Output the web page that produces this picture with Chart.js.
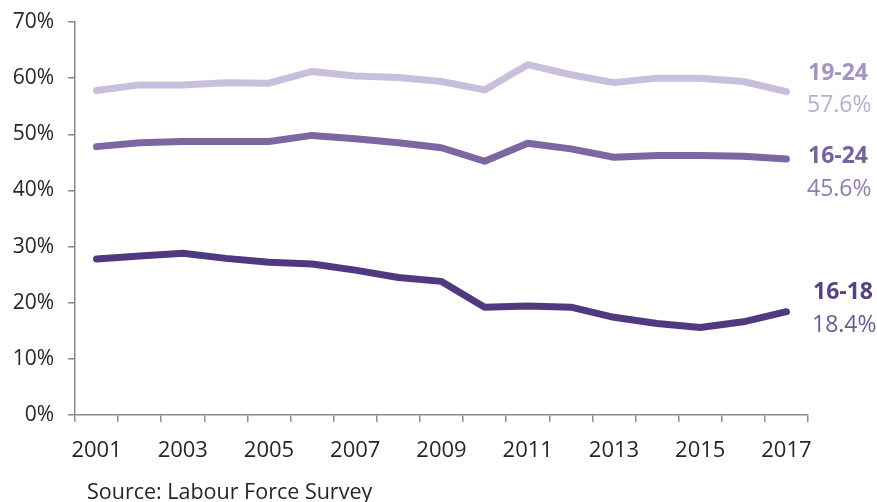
<!DOCTYPE html>
<html>
<head>
<meta charset="utf-8">
<script src="https://cdn.jsdelivr.net/npm/chart.js@4/dist/chart.umd.min.js"></script>
<style>
  html, body { margin: 0; padding: 0; background: #fff; }
  #wrap { position: relative; width: 877px; height: 502px; }
  #source {
    position: absolute; left: 87px; top: 476px;
    font-family: "Open Sans", sans-serif; font-size: 21.5px; line-height: 30px; color: #262626;
  }
</style>
</head>
<body>
<div id="wrap">
  <canvas id="myChart" width="877" height="502"></canvas>
  <div id="source">Source: Labour Force Survey</div>
</div>
<script>
const annees = ["2001", "2002", "2003", "2004", "2005", "2006", "2007", "2008", "2009",
  "2010", "2011", "2012", "2013", "2014", "2015", "2016", "2017"];

const groupes = ["19-24", "16-24", "16-18"];

const taux1924 = [57.8, 58.8, 58.8, 59.2, 59.1, 61.2, 60.4, 60.1, 59.4,
  57.9, 62.4, 60.6, 59.2, 60.0, 60.0, 59.4, 57.6];
const taux1624 = [47.8, 48.5, 48.7, 48.7, 48.7, 49.8, 49.2, 48.5, 47.6,
  45.2, 48.4, 47.4, 45.9, 46.2, 46.2, 46.1, 45.6];
const taux1618 = [27.8, 28.3, 28.8, 27.9, 27.2, 26.9, 25.8, 24.5, 23.8,
  19.2, 19.4, 19.2, 17.4, 16.3, 15.6, 16.6, 18.4];

const graduationsY = [0, 10, 20, 30, 40, 50, 60, 70];

const couleursLigne = ["#c9bfdc", "#7c67a3", "#4f3a80"];
const couleursNom = ["#a395c2", "#76629e", "#56437f"];
const couleursValeur = ["#b8aed0", "#8e7db2", "#6b5a98"];

// decalages des etiquettes de fin de ligne (nom, valeur), en pixels
const decalages = [
  { dx: 0, nomDy: -18, valDy: 14 },
  { dx: 0, nomDy: -3, valDy: 30 },
  { dx: 5, nomDy: -19, valDy: 14 },
];

const police = "'Open Sans', sans-serif";

const etiquettesFin = {
  id: "etiquettesFin",
  afterDatasetsDraw(chart) {
    const ctx = chart.ctx;
    const droite = chart.chartArea.right;
    ctx.save();
    ctx.textAlign = "left";
    ctx.textBaseline = "middle";
    chart.data.datasets.forEach((ds, i) => {
      const meta = chart.getDatasetMeta(i);
      const pt = meta.data[meta.data.length - 1];
      const d = decalages[i];
      ctx.font = "bold 23px " + police;
      ctx.fillStyle = couleursNom[i];
      ctx.fillText(ds.label, droite + d.dx, pt.y + d.nomDy);
      ctx.font = "23px " + police;
      ctx.fillStyle = couleursValeur[i];
      ctx.fillText(ds.data[ds.data.length - 1].toFixed(1) + "%", droite + d.dx - 1, pt.y + d.valDy);
    });
    ctx.restore();
  },
};

const series = [taux1924, taux1624, taux1618];

const data = {
  labels: annees,
  datasets: series.map((valeurs, i) => ({
    label: groupes[i],
    data: valeurs,
    borderColor: couleursLigne[i],
    backgroundColor: couleursLigne[i],
    borderWidth: 7,
    borderCapStyle: "round",
    borderJoinStyle: "round",
    pointRadius: 0,
    tension: 0,
  })),
};

const config = {
  type: "line",
  data: data,
  options: {
    responsive: false,
    animation: false,
    layout: { padding: { top: 22, right: 69, left: 0, bottom: 0 } },
    plugins: {
      legend: { display: false },
      tooltip: { enabled: false },
    },
    scales: {
      x: {
        offset: true,
        grid: { offset: true, drawOnChartArea: false, tickLength: 7, color: "#8a8a8a", lineWidth: 1.5 },
        border: { color: "#8a8a8a", width: 1.5 },
        ticks: {
          autoSkip: false,
          maxRotation: 0,
          padding: 16,
          color: "#262626",
          font: { family: police, size: 22 },
          callback: (v, i) => (i % 2 === 0 ? annees[i] : ""),
        },
        afterFit: (s) => { s.height = 87; s.paddingLeft = 0; s.paddingRight = 0; },
      },
      y: {
        min: 0,
        max: 70,
        afterBuildTicks: (s) => { s.ticks = graduationsY.map((v) => ({ value: v })); },
        grid: { drawOnChartArea: false, tickLength: 7, color: "#8a8a8a", lineWidth: 1.5 },
        border: { color: "#8a8a8a", width: 1.5 },
        ticks: {
          padding: 14,
          color: "#262626",
          font: { family: police, size: 21 },
          callback: (v) => v + "%",
        },
        afterFit: (s) => { s.width = 75; s.paddingTop = 0; s.paddingBottom = 0; },
      },
    },
  },
  plugins: [etiquettesFin],
};

const myChart = new Chart(document.getElementById("myChart"), config);
</script>
</body>
</html>
